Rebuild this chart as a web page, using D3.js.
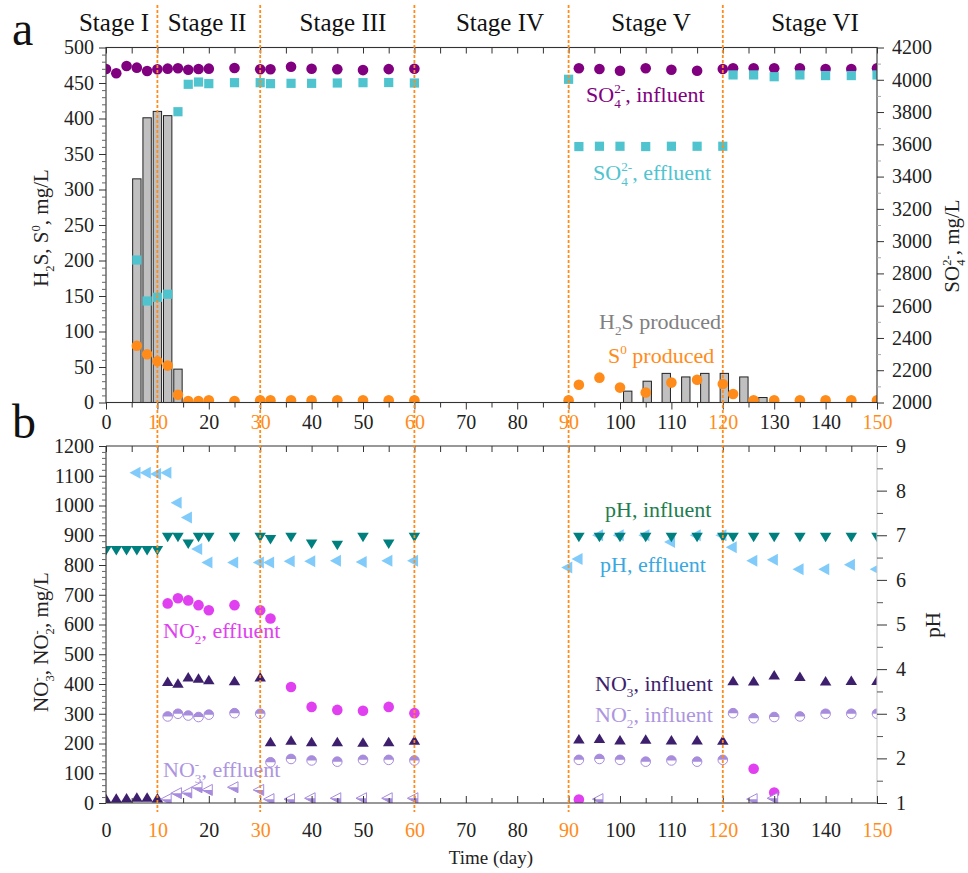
<!DOCTYPE html>
<html><head><meta charset="utf-8">
<script src="https://cdn.jsdelivr.net/npm/d3@7"></script>
<style>
body{margin:0;background:#fff;}
svg{display:block;}
svg text, svg tspan{font-family:"Liberation Serif","Times New Roman",Times,serif !important;}
</style>
</head><body><svg id="c" width="968" height="873"></svg>
<script>
// ---------------- DATA ----------------
const dayTicks = d3.range(0, 151, 10);
const stageBoundaries = [10, 30, 60, 90, 120];
const orangeTicks = [10, 30, 60, 90, 120, 150];
const stageNames = ["Stage I", "Stage II", "Stage III", "Stage IV", "Stage V", "Stage VI"];

// Panel a
const h2sDays = [6, 8, 10, 12, 14, 101.5, 105.3, 109, 112.8, 116.5, 120.3, 124.1, 127.8];
const h2sVals = [315, 401, 410, 404, 47, 16, 30, 41, 36, 41, 41, 36, 7];

const so4InDays = [0,2,4,6,8,10,12,14,16,18,20,25,30,32,36,40,45,50,55,60,92,96,100,105,110,115,120,122,126,130,135,140,145,150];
const so4InVals = [4067,4040,4085,4075,4054,4065,4069,4071,4062,4067,4069,4073,4065,4065,4081,4068,4065,4060,4066,4068,4071,4067,4056,4071,4062,4056,4067,4071,4071,4071,4071,4067,4067,4071];

const so4EffDays = [6,8,10,12,14,16,18,20,25,30,32,36,40,45,50,55,60,90,92,96,100,105,110,115,120,122,126,130,135,140,145,150];
const so4EffVals = [2883,2629,2652,2671,3802,3972,3986,3976,3982,3982,3976,3978,3978,3980,3982,3983,3980,4003,3586,3588,3588,3586,3588,3588,3588,4030,4030,4019,4030,4026,4026,4030];

const s0Days = [6,8,10,12,14,16,18,20,25,30,32,36,40,45,50,55,60,90,92,96,100,105,110,115,120,122,126,130,135,140,145,150];
const s0Vals = [80,68,58,52,11,2,2,3,2,3,3,3,3,3,3,3,3,3,25,35,21,14,28,32,26,12,3,3,3,3,3,3];

// Panel b
const phInDays = [0,2,4,6,8,10,12,14,16,18,20,25,30,32,36,40,45,50,55,60,92,96,100,105,110,115,120,122,126,130,135,140,145,150];
const phInVals = [6.65,6.65,6.65,6.65,6.65,6.65,6.95,6.95,6.8,6.95,6.95,6.95,6.95,6.9,6.95,6.8,6.77,6.95,6.8,6.95,6.95,6.95,6.95,6.95,6.95,6.95,6.95,6.95,6.95,6.95,6.95,6.95,6.95,6.95];

const phEffDays = [6,8,10,12,14,16,18,20,25,30,32,36,40,45,50,55,60,90,92,96,100,105,110,115,120,122,126,130,135,140,145,150];
const phEffVals = [8.4,8.4,8.37,8.4,7.73,7.4,6.69,6.39,6.39,6.39,6.39,6.42,6.42,6.43,6.4,6.43,6.43,6.28,6.47,7.0,7.0,7.0,6.85,7.0,7.0,6.73,6.43,6.45,6.24,6.24,6.34,6.24];

const no2EffDays = [12,14,16,18,20,25,30,32,36,40,45,50,55,60,92,126,130];
const no2EffVals = [671,688,681,665,648,665,648,620,390,323,313,310,323,302,12,115,35];

const no3InDays = [0,2,4,6,8,10,12,14,16,18,20,25,30,32,36,40,45,50,55,60,92,96,100,105,110,115,120,122,126,130,135,140,145,150];
const no3InVals = [15,17,18,20,20,18,409,403,424,420,415,412,424,207,212,207,207,205,207,212,216,218,213,215,213,213,212,412,411,431,426,411,413,413];

const no2InDays = [12,14,16,18,20,25,30,32,36,40,45,50,55,60,92,96,100,105,110,115,120,122,126,130,135,140,145,150];
const no2InVals = [291,300,294,289,297,302,300,137,148,143,139,145,145,143,145,148,145,139,143,139,145,302,285,289,291,300,300,300];

const no3EffDays = [12,14,16,18,20,25,30,32,36,40,45,50,55,60,96,126,130];
const no3EffVals = [13,33,35,53,44,53,44,13,13,16,16,16,16,16,13,13,16];

// ---------------- STYLE ----------------
const FONT = "Liberation Serif, Times New Roman, serif";
const C = {
  so4In: "#800080", so4Eff: "#4fc4cf", s0: "#ff8c1a", bar: "#c0c0c0",
  phIn: "#007f7f", phEff: "#80cbfa", no2Eff: "#e040f0", no3In: "#3d1f6e",
  lav: "#a78bdc", orange: "#ff8c1a", axis: "#333"
};

const svg = d3.select("#c").attr("font-family", FONT);
svg.append("rect").attr("width", 968).attr("height", 873).attr("fill", "#fff");

const x = d3.scaleLinear().domain([0, 150]).range([106, 877]);
const yA = d3.scaleLinear().domain([0, 500]).range([402.5, 47.5]);
const yAR = d3.scaleLinear().domain([2000, 4200]).range([402.5, 47.5]);
const yB = d3.scaleLinear().domain([0, 1200]).range([803, 446]);
const yBR = d3.scaleLinear().domain([1, 9]).range([803, 446]);
const fmt = d3.format("d");

const zip = (a, b) => a.map((d, i) => [d, b[i]]);

// rich text with stacked sub/superscripts; markup: _{sub} ^{sup}
function rich(parent, markup, size, color) {
  const t = parent.append("text").attr("font-size", size).attr("fill", color);
  const tokens = markup.split(/(_\{[^}]*\}|\^\{[^}]*\})/).filter(s => s.length);
  let off = 0, lastSub = null, pendingDx = 0;
  tokens.forEach(tok => {
    let target = 0, fs = size, txt = tok, kind = "n";
    if (tok.startsWith("_{")) { txt = tok.slice(2, -1); target = size * 0.28; fs = size * 0.6; kind = "sub"; }
    else if (tok.startsWith("^{")) { txt = tok.slice(2, -1); target = -size * 0.4; fs = size * 0.6; kind = "sup"; }
    const ts = t.append("tspan").attr("font-size", fs).text(txt);
    if (target - off !== 0) ts.attr("dy", target - off);
    if (kind === "sup" && lastSub) {
      const subW = lastSub.node().getComputedTextLength();
      ts.attr("dx", -subW);
      const supW = ts.node().getComputedTextLength();
      pendingDx = Math.max(0, subW - supW);
    } else if (pendingDx > 0) {
      ts.attr("dx", pendingDx);
      pendingDx = 0;
    }
    lastSub = kind === "sub" ? ts : null;
    off = target;
  });
  return t;
}

function styleAxis(g, opts = {}) {
  g.attr("font-family", FONT);
  g.select(".domain").remove();
  g.selectAll(".tick line").attr("stroke", opts.tickColor || C.axis).attr("stroke-width", 1);
  g.selectAll(".tick text").attr("font-size", opts.fs || 20).attr("fill", "#222");
}

const defs = svg.append("defs");
defs.append("clipPath").attr("id", "clipA").append("rect")
  .attr("x", 106).attr("y", 47.5).attr("width", 771).attr("height", 355);
defs.append("clipPath").attr("id", "clipB").append("rect")
  .attr("x", 106).attr("y", 446).attr("width", 771).attr("height", 357);

const downTri = (w, h) => `M${-w/2},${-h/2}L${w/2},${-h/2}L0,${h/2}Z`;
const upTri = (w, h) => `M${-w/2},${h/2}L${w/2},${h/2}L0,${-h/2}Z`;
const leftTri = (w, h) => `M${w/3},${-h/2}L${w/3},${h/2}L${-2*w/3},0Z`;

// ================= PANEL A =================
const gA = svg.append("g");
const plotA = gA.append("g").attr("clip-path", "url(#clipA)");

const barW = x(1.63) - x(0);
plotA.selectAll("rect.h2s").data(zip(h2sDays, h2sVals)).join("rect")
  .attr("x", d => x(d[0]) - barW / 2).attr("width", barW)
  .attr("y", d => yA(d[1])).attr("height", d => yA(0) - yA(d[1]))
  .attr("fill", C.bar).attr("stroke", "#222").attr("stroke-width", 1);

plotA.selectAll("circle.so4in").data(zip(so4InDays, so4InVals)).join("circle")
  .attr("cx", d => x(d[0])).attr("cy", d => yAR(d[1])).attr("r", 5.3).attr("fill", C.so4In);
plotA.selectAll("rect.so4eff").data(zip(so4EffDays, so4EffVals)).join("rect")
  .attr("x", d => x(d[0]) - 4.6).attr("y", d => yAR(d[1]) - 4.6).attr("width", 9.2).attr("height", 9.2)
  .attr("fill", C.so4Eff);
plotA.selectAll("circle.s0").data(zip(s0Days, s0Vals)).join("circle")
  .attr("cx", d => x(d[0])).attr("cy", d => yA(d[1])).attr("r", 5.3).attr("fill", C.s0);

gA.append("rect").attr("x", 106).attr("y", 47.5).attr("width", 771).attr("height", 355)
  .attr("fill", "none").attr("stroke", C.axis).attr("stroke-width", 1.1);

const axAL = gA.append("g").attr("transform", "translate(106,0)")
  .call(d3.axisLeft(yA).tickValues(d3.range(0, 501, 50)).tickFormat(fmt).tickSize(7).tickPadding(5));
styleAxis(axAL);
const axALm = gA.append("g").attr("transform", "translate(106,0)")
  .call(d3.axisLeft(yA).tickValues(d3.range(0, 501, 10).filter(v => v % 50)).tickSize(4).tickFormat(""));
styleAxis(axALm, { tickColor: "#666" });

const axAR = gA.append("g").attr("transform", "translate(877,0)")
  .call(d3.axisRight(yAR).tickValues(d3.range(2000, 4201, 200)).tickFormat(fmt).tickSize(7).tickPadding(8));
styleAxis(axAR);
const axARm = gA.append("g").attr("transform", "translate(877,0)")
  .call(d3.axisRight(yAR).tickValues(d3.range(2100, 4200, 200)).tickSize(4).tickFormat(""));
styleAxis(axARm, { tickColor: "#aaa" });

const axAB = gA.append("g").attr("transform", "translate(0,402.5)")
  .call(d3.axisBottom(x).tickValues(dayTicks).tickFormat(fmt).tickSize(7).tickPadding(5));
styleAxis(axAB);
axAB.selectAll(".tick text").attr("fill", d => orangeTicks.includes(d) ? C.orange : "#222");
const axABm = gA.append("g").attr("transform", "translate(0,402.5)")
  .call(d3.axisBottom(x).tickValues(d3.range(5, 150, 10)).tickSize(5).tickFormat(""));
styleAxis(axABm);
const axAT = gA.append("g").attr("transform", "translate(0,47.5)")
  .call(d3.axisBottom(x).tickValues(d3.range(0, 151, 5)).tickSize(6).tickFormat(""));
styleAxis(axAT);

rich(gA, "H_{2}S, S^{0}, mg/L", 21, "#222")
  .attr("text-anchor", "middle").attr("transform", "translate(48,228) rotate(-90)");
rich(gA, "SO_{4}^{2-}, mg/L", 21, "#222")
  .attr("text-anchor", "middle").attr("transform", "translate(959,246) rotate(-90)");

rich(gA, "SO_{4}^{2-}, influent", 22, C.so4In).attr("x", 586).attr("y", 102);
rich(gA, "SO_{4}^{2-}, effluent", 22, C.so4Eff).attr("x", 593).attr("y", 180);
rich(gA, "H_{2}S produced", 22, "#808080").attr("x", 599).attr("y", 329);
rich(gA, "S^{0} produced", 22, C.s0).attr("x", 608).attr("y", 362.5);

// ================= PANEL B =================
const gB = svg.append("g");
const plotB = gB.append("g").attr("clip-path", "url(#clipB)");

plotB.selectAll("path.pheff").data(zip(phEffDays, phEffVals)).join("path")
  .attr("d", leftTri(11, 12)).attr("transform", d => `translate(${x(d[0])},${yBR(d[1])})`)
  .attr("fill", C.phEff);
plotB.selectAll("path.phin").data(zip(phInDays, phInVals)).join("path")
  .attr("d", downTri(11.5, 9.5)).attr("transform", d => `translate(${x(d[0])},${yBR(d[1])})`)
  .attr("fill", C.phIn);
plotB.selectAll("circle.no2eff").data(zip(no2EffDays, no2EffVals)).join("circle")
  .attr("cx", d => x(d[0])).attr("cy", d => yB(d[1])).attr("r", 5.3).attr("fill", C.no2Eff);
plotB.selectAll("path.no3in").data(zip(no3InDays, no3InVals)).join("path")
  .attr("d", upTri(11.5, 9.5)).attr("transform", d => `translate(${x(d[0])},${yB(d[1])})`)
  .attr("fill", C.no3In);
const n2i = plotB.selectAll("g.no2in").data(zip(no2InDays, no2InVals)).join("g")
  .attr("transform", d => `translate(${x(d[0])},${yB(d[1])})`);
n2i.append("circle").attr("r", 4.8).attr("fill", "#fff").attr("stroke", C.lav).attr("stroke-width", 1);
n2i.append("path").attr("d", "M-4.8,0A4.8,4.8 0 0 1 4.8,0Z").attr("fill", C.lav);
const n3e = plotB.selectAll("g.no3eff").data(zip(no3EffDays, no3EffVals)).join("g")
  .attr("transform", d => `translate(${x(d[0])},${yB(d[1])})`);
n3e.append("path").attr("d", leftTri(10.5, 11)).attr("fill", "#fff").attr("stroke", C.lav).attr("stroke-width", 1);
n3e.append("path").attr("d", `M${-2*10.5/3},0L${10.5/3},0L${10.5/3},5.5Z`).attr("fill", C.lav);

gB.append("line").attr("x1", 106).attr("x2", 877).attr("y1", 446).attr("y2", 446).attr("stroke", C.axis).attr("stroke-width", 1.1);
gB.append("line").attr("x1", 106).attr("x2", 877).attr("y1", 803).attr("y2", 803).attr("stroke", C.axis).attr("stroke-width", 1.1);
gB.append("line").attr("x1", 106).attr("x2", 106).attr("y1", 446).attr("y2", 803).attr("stroke", C.axis).attr("stroke-width", 1.1);
gB.append("line").attr("x1", 877).attr("x2", 877).attr("y1", 446).attr("y2", 803).attr("stroke", "#c8c8c8").attr("stroke-width", 1.1);

const axBL = gB.append("g").attr("transform", "translate(106,0)")
  .call(d3.axisLeft(yB).tickValues(d3.range(0, 1201, 100)).tickFormat(fmt).tickSize(7).tickPadding(5));
styleAxis(axBL);
const axBLm = gB.append("g").attr("transform", "translate(106,0)")
  .call(d3.axisLeft(yB).tickValues(d3.range(0, 1201, 20).filter(v => v % 100)).tickSize(4).tickFormat(""));
styleAxis(axBLm, { tickColor: "#666" });

const axBR = gB.append("g").attr("transform", "translate(877,0)")
  .call(d3.axisRight(yBR).tickValues(d3.range(1, 10, 1)).tickFormat(fmt).tickSize(10).tickPadding(9));
styleAxis(axBR);
const axBRm = gB.append("g").attr("transform", "translate(877,0)")
  .call(d3.axisRight(yBR).tickValues(d3.range(1.5, 9, 1)).tickSize(6).tickFormat(""));
styleAxis(axBRm, { tickColor: "#555" });

const axBB = gB.append("g").attr("transform", "translate(0,803)")
  .call(d3.axisBottom(x).tickValues(dayTicks).tickFormat(fmt).tickSizeInner(-7).tickSizeOuter(0).tickPadding(20));
styleAxis(axBB);
axBB.selectAll(".tick text").attr("fill", d => orangeTicks.includes(d) ? C.orange : "#222");
const axBBm = gB.append("g").attr("transform", "translate(0,803)")
  .call(d3.axisBottom(x).tickValues(d3.range(5, 150, 10)).tickSizeInner(-5).tickSizeOuter(0).tickFormat(""));
styleAxis(axBBm);
const axBT = gB.append("g").attr("transform", "translate(0,446)")
  .call(d3.axisBottom(x).tickValues(d3.range(0, 151, 5)).tickSize(6).tickFormat(""));
styleAxis(axBT);

rich(gB, "NO_{3}^{-}, NO_{2}^{-}, mg/L", 21, "#222")
  .attr("text-anchor", "middle").attr("transform", "translate(48,642) rotate(-90)");
rich(gB, "pH", 21, "#222")
  .attr("text-anchor", "middle").attr("transform", "translate(940,625) rotate(-90)");
gB.append("text").attr("x", 491).attr("y", 864).attr("text-anchor", "middle")
  .attr("font-size", 19).attr("fill", "#222").text("Time (day)");

rich(gB, "pH, influent", 22, "#1e7d4f").attr("x", 605).attr("y", 517);
rich(gB, "pH, effluent", 22, "#3aa8e0").attr("x", 600).attr("y", 572);
rich(gB, "NO_{2}^{-}, effluent", 22, C.no2Eff).attr("x", 163).attr("y", 638);
rich(gB, "NO_{3}^{-}, influent", 22, C.no3In).attr("x", 595).attr("y", 691);
rich(gB, "NO_{2}^{-}, influent", 22, "#ad95e0").attr("x", 595).attr("y", 722);
rich(gB, "NO_{3}^{-}, effluent", 22, "#ad95e0").attr("x", 163).attr("y", 777);

// ================= STAGE LINES & LABELS =================
svg.append("g").selectAll("line").data(stageBoundaries).join("line")
  .attr("x1", d => x(d)).attr("x2", d => x(d)).attr("y1", 5).attr("y2", 812)
  .attr("stroke", C.orange).attr("stroke-width", 1.8).attr("stroke-dasharray", "3,2");

const stageLabelX = [114, 207, 343, 500, 651, 815];
svg.append("g").selectAll("text").data(stageNames).join("text")
  .attr("x", (d, i) => stageLabelX[i]).attr("y", 31).attr("text-anchor", "middle")
  .attr("font-size", 25).attr("fill", "#111").text(d => d);

svg.append("text").attr("x", 12).attr("y", 45).attr("font-size", 48).attr("fill", "#111").text("a");
svg.append("text").attr("x", 12).attr("y", 438).attr("font-size", 48).attr("fill", "#111").text("b");
</script></body></html>
